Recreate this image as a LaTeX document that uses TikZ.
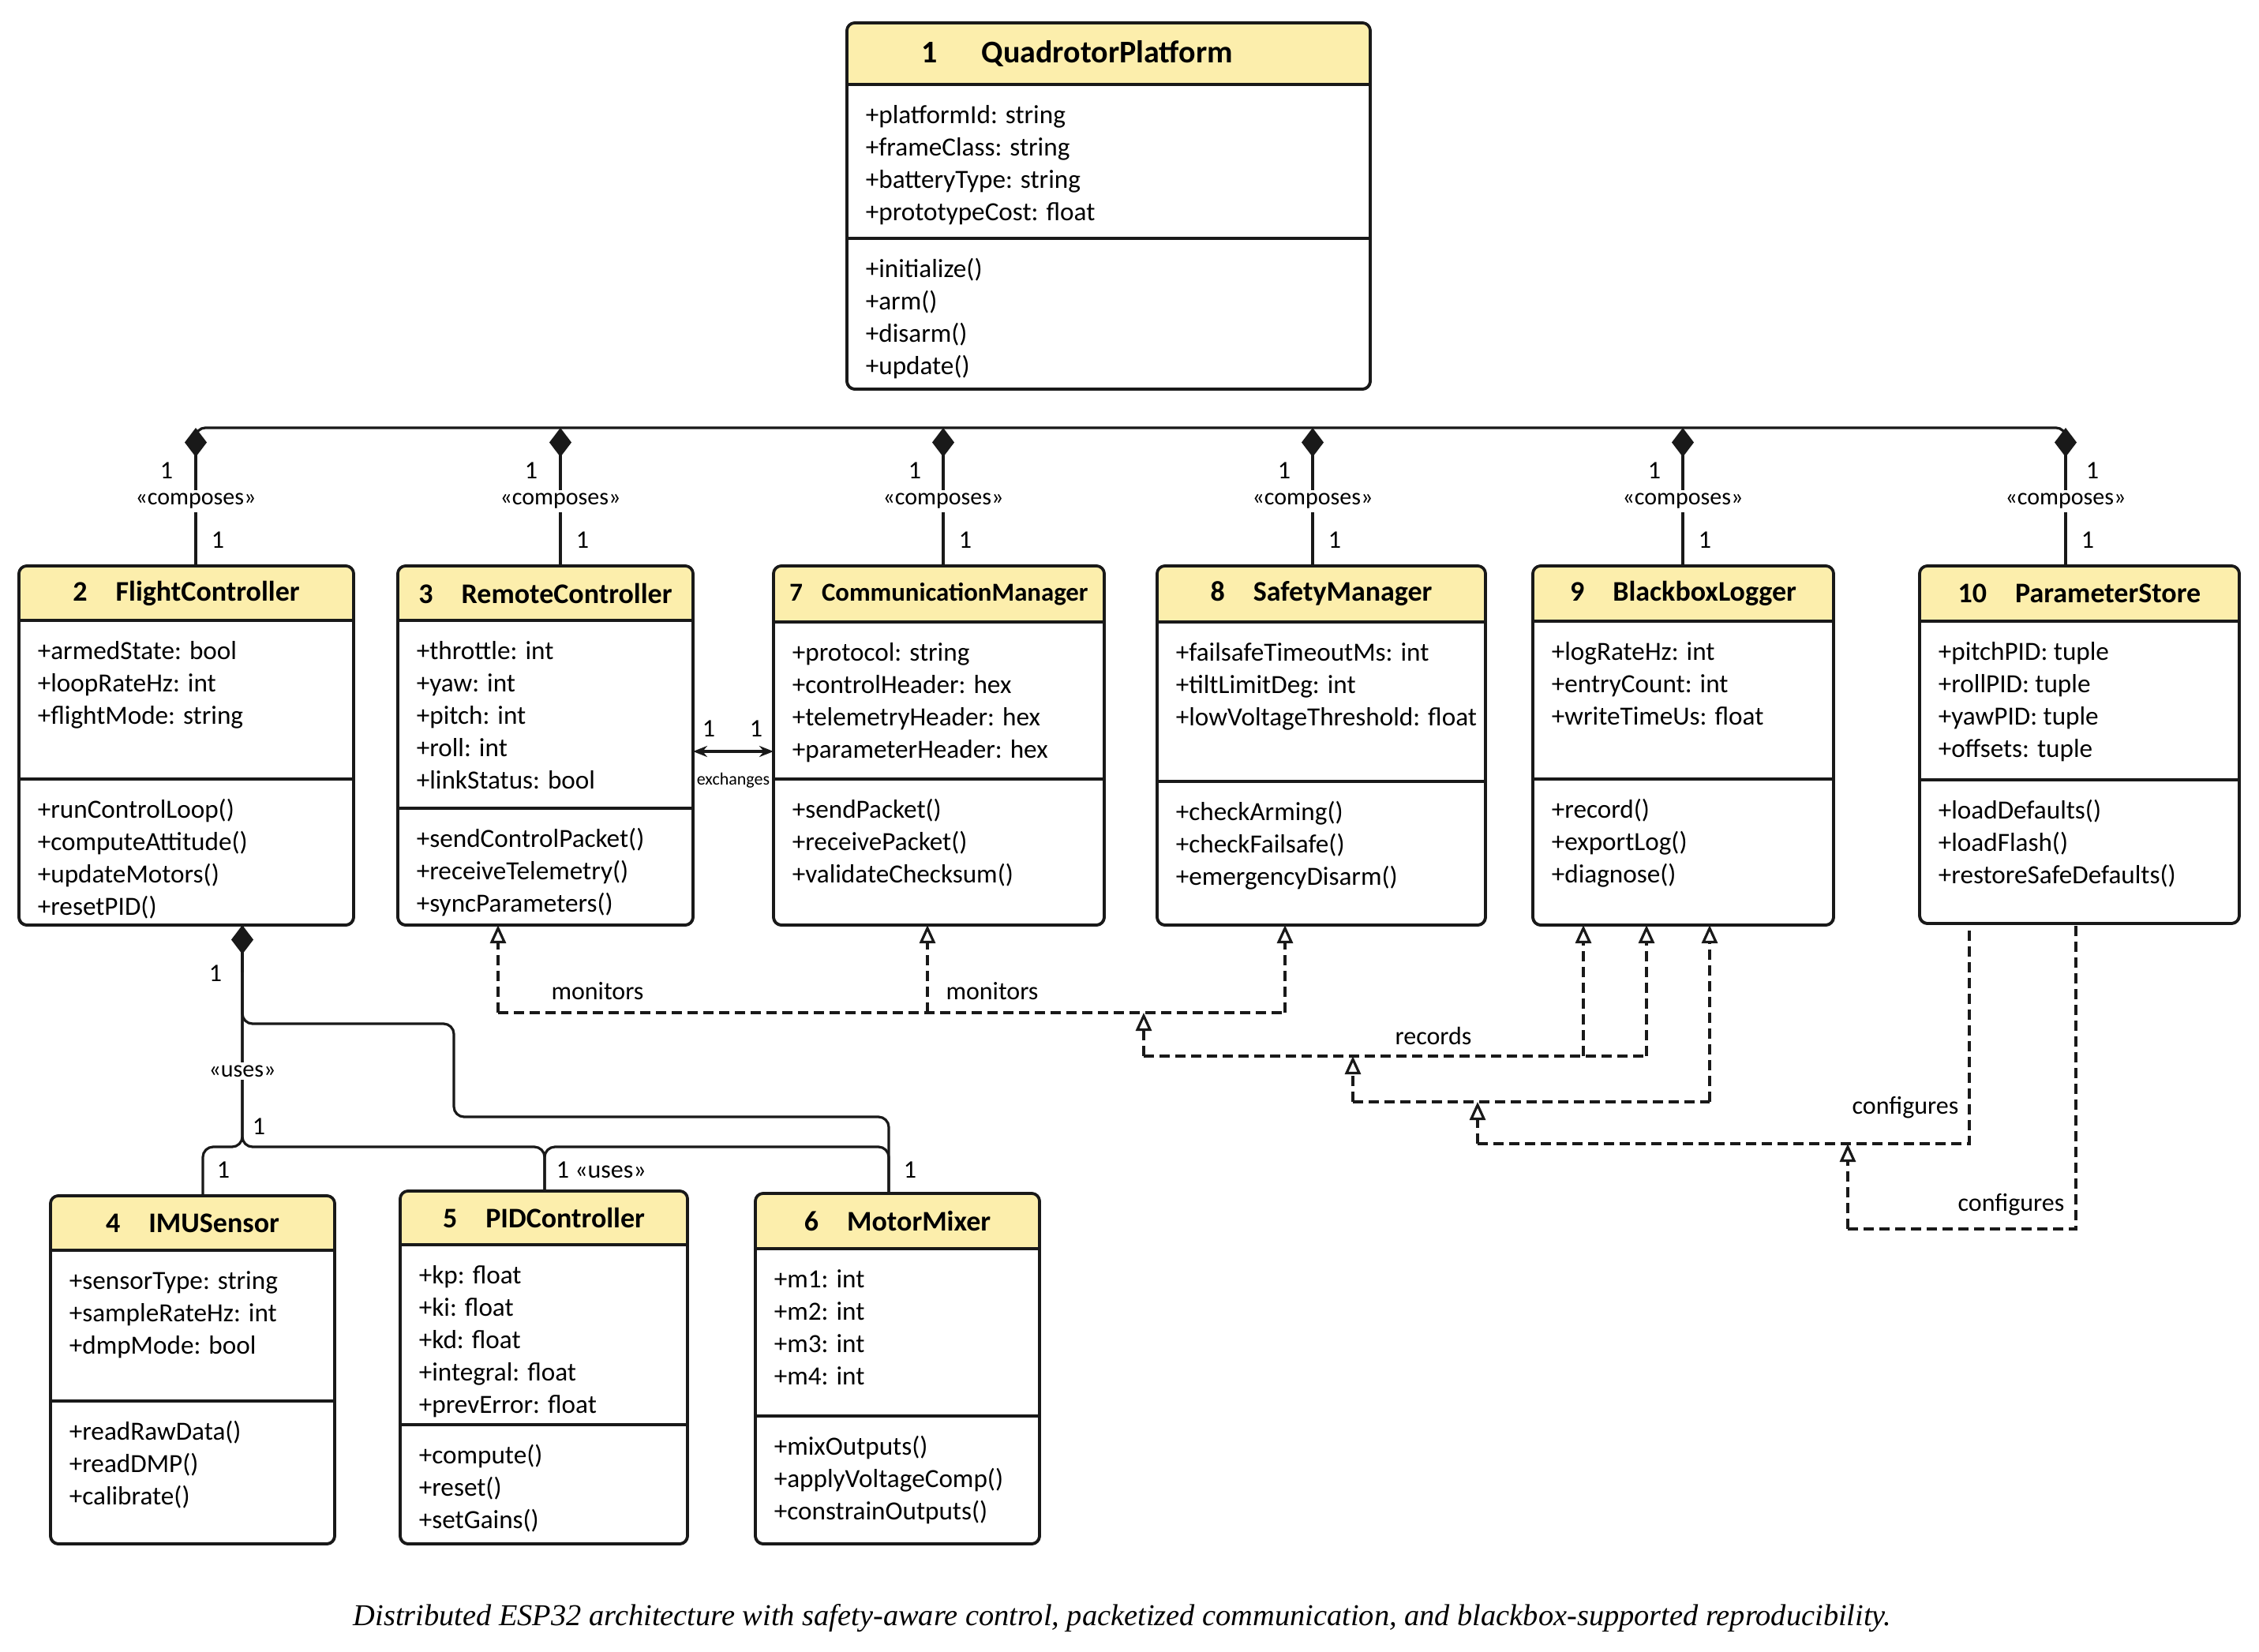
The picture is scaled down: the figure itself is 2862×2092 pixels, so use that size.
\documentclass[tikz,border=0pt]{standalone}
\usepackage{fontspec}
\setmainfont{Carlito}
\newfontfamily\captionfont{Liberation Serif}
\usetikzlibrary{arrows.meta,calc,fit}

\definecolor{headyellow}{RGB}{252,238,172}
\definecolor{inkline}{RGB}{25,25,25}

\tikzset{
  classframe/.style={draw=inkline, fill=white, line width=0.9pt, rounded corners=2.5pt, inner sep=0pt, outer sep=0pt},
  classedge/.style={draw=inkline, line width=0.9pt, rounded corners=2.5pt},
  headfill/.style={fill=headyellow},
  rule/.style={draw=inkline, line width=0.9pt},
  classtitle/.style={font=\fontsize{9}{11}\selectfont\bfseries, inner sep=0pt},
  members/.style={font=\fontsize{8.3}{10.25}\selectfont, align=left, anchor=north west, inner sep=0pt},
  conn/.style={draw=inkline, line width=0.8pt},
  comp/.style={conn, {Diamond[length=9.25pt, width=7pt]}-},
  assoc/.style={conn, rounded corners=3.25pt},
  depline/.style={conn, dash pattern=on 3.25pt off 1.75pt},
  deparrow/.style={depline, -{Triangle[open, length=5.75pt, width=5pt]}},
  exch/.style={conn, {Stealth[open, length=4.5pt, width=3.5pt]}-{Stealth[open, length=4.5pt, width=3.5pt]}},
  mult/.style={font=\fontsize{8}{10}\selectfont, inner sep=1pt},
  stereo/.style={font=\fontsize{7.5}{9}\selectfont, fill=white, inner sep=1pt},
  note/.style={font=\fontsize{8}{10}\selectfont, inner sep=1pt},
  tiny/.style={font=\fontsize{5.5}{6}\selectfont, inner sep=0.5pt},
  caption/.style={font=\captionfont\itshape\fontsize{9.6}{12}\selectfont, inner sep=0pt},
}

\newcommand{\bigtitle}{\fontsize{10}{12}\selectfont}
\newcommand{\narrowtitle}{\fontsize{8.2}{10}\selectfont}

% [#1 gap] #2 name, #3 top left, #4 bottom right, #5 y of header rule, #6 y of separator, #7 number, #8 class
\newcommand{\umlclass}[8][9pt]{%
  \path (#3) coordinate (#2-nw) (#4) coordinate (#2-se);
  \node[classframe, fit=(#2-nw)(#2-se)] (#2) {};
  \coordinate (#2-hb) at (#2.west |- 0,#5);
  \coordinate (#2-sep) at (#2.west |- 0,#6);
  \begin{scope}
    \clip[rounded corners=2.5pt] (#2.south west) rectangle (#2.north east);
    \fill[headfill] (#2.north west) rectangle (#2-hb -| #2.east);
  \end{scope}
  \draw[rule] (#2-hb) -- (#2-hb -| #2.east);
  \draw[rule] (#2-sep) -- (#2-sep -| #2.east);
  \draw[classedge] (#2.south west) rectangle (#2.north east);
  \node[classtitle] (#2-title) at ($(#2.north)!0.5!(#2-hb -| #2.north)$) {#7\hspace{#1}#8};
}
% #1 name, #2 attributes, #3 operations
\newcommand{\umlmembers}[3]{%
  \node[members] (#1-attr) at ($(#1-hb)+(23,20)$) {\strut#2};
  \node[members] (#1-ops) at ($(#1-sep)+(23,20)$) {\strut#3};
}

\begin{document}
\begin{tikzpicture}[x=0.25pt, y=-0.25pt]
\useasboundingbox (0,0) rectangle (2862,2092);

% classes
\umlclass[14pt]{qp}{1073,29}{1736,493}{107}{302}{\bigtitle 1}{QuadrotorPlatform\kern20pt}
\umlmembers{qp}{+platformId: string\\+frameClass: string\\+batteryType: string\\+prototypeCost: float}{+initialize()\\+arm()\\+disarm()\\+update()}

\umlclass{fc}{24,717}{448,1172}{786}{987}{2}{FlightController}
\umlmembers{fc}{+armedState: bool\\+loopRateHz: int\\+flightMode: string}{+runControlLoop()\\+computeAttitude()\\+updateMotors()\\+resetPID()}

\umlclass{rc}{504,717}{878,1172}{786}{1024}{3}{RemoteController}
\umlmembers{rc}{+throttle: int\\+yaw: int\\+pitch: int\\+roll: int\\+linkStatus: bool}{+sendControlPacket()\\+receiveTelemetry()\\+syncParameters()}

\umlclass[6pt]{cm}{980,717}{1399,1172}{788}{987}{\narrowtitle 7}{CommunicationManager}
\umlmembers{cm}{+protocol: string\\+controlHeader: hex\\+telemetryHeader: hex\\+parameterHeader: hex}{+sendPacket()\\+receivePacket()\\+validateChecksum()}

\umlclass{sm}{1466,717}{1882,1172}{788}{990}{8}{SafetyManager}
\umlmembers{sm}{+failsafeTimeoutMs: int\\+tiltLimitDeg: int\\+lowVoltageThreshold: float}{+checkArming()\\+checkFailsafe()\\+emergencyDisarm()}

\umlclass{bl}{1942,717}{2323,1172}{787}{987}{9}{BlackboxLogger}
\umlmembers{bl}{+logRateHz: int\\+entryCount: int\\+writeTimeUs: float}{+record()\\+exportLog()\\+diagnose()}

\umlclass{ps}{2432,717}{2837,1170}{787}{988}{10}{ParameterStore}
\umlmembers{ps}{+pitchPID: tuple\\+rollPID: tuple\\+yawPID: tuple\\+offsets: tuple}{+loadDefaults()\\+loadFlash()\\+restoreSafeDefaults()}

\umlclass{imu}{64,1515}{424,1956}{1584}{1775}{4}{IMUSensor}
\umlmembers{imu}{+sensorType: string\\+sampleRateHz: int\\+dmpMode: bool}{+readRawData()\\+readDMP()\\+calibrate()}

\umlclass{pid}{507,1509}{871,1956}{1577}{1805}{5}{PIDController}
\umlmembers{pid}{+kp: float\\+ki: float\\+kd: float\\+integral: float\\+prevError: float}{+compute()\\+reset()\\+setGains()}

\umlclass{mm}{957,1512}{1317,1956}{1582}{1794}{6}{MotorMixer}
\umlmembers{mm}{+m1: int\\+m2: int\\+m3: int\\+m4: int}{+mixOutputs()\\+applyVoltageComp()\\+constrainOutputs()}

% composition bus
\foreach \cls/\bx in {fc/248, rc/710, cm/1195, sm/1663, bl/2132, ps/2617}
  \coordinate (bus-\cls) at (\bx,542);
\draw[conn, rounded corners=3pt] ($(bus-fc)+(0,30)$) -- (bus-fc) -- (bus-ps) -- ($(bus-ps)+(0,30)$);
\foreach \cls/\side in {fc/-37, rc/-37, cm/-36, sm/-36, bl/-36, ps/34} {
  \draw[comp] (bus-\cls) -- (bus-\cls |- \cls.north);
  \node[stereo] at ($(bus-\cls)+(0,93)$) {«composes»};
  \node[mult] at ($(bus-\cls)+(\side,54)$) {1};
  \node[mult] at ($(bus-\cls)+(28,142)$) {1};
}

% flight controller uses
\coordinate (fc-d) at (307,0 |- fc.south);
\draw[assoc] (fc-d) |- (257,1453) -- (257,0 |- imu.north);
\draw[assoc] (fc-d) |- (690,1453) -- (690,0 |- pid.north);
\draw[assoc] (fc-d) |- (575,1297) |- (1126,1415) -- (1126,0 |- mm.north);
\draw[assoc] (690,0 |- pid.north) |- (1126,1453) -- (1126,0 |- mm.north);
\draw[comp] (fc-d) -- ++(0,60);
\node[mult] at (273,1233) {1};
\node[stereo] at (307,1357) {«uses»};
\node[mult] at (328,1427) {1};
\node[mult] at (283,1482) {1};
\node[mult, anchor=west] at (700,1482) {1 «uses»};
\node[mult] at (1153,1482) {1};

% exchanges
\coordinate (ex) at (0,952);
\draw[exch] (rc.east |- ex) -- (cm.west |- ex);
\node[mult] at (898,923) {1};
\node[mult] at (958,923) {1};
\node[tiny] at (929,989) {exchanges};

% monitors
\coordinate (mon-rc) at (631,1283);
\coordinate (mon-cm) at (1175,1283);
\coordinate (mon-sm) at (1628,1283);
\draw[depline] (mon-rc) -- (mon-sm);
\foreach \cls in {rc, cm, sm}
  \draw[deparrow] (mon-\cls) -- (mon-\cls |- \cls.south);
\node[note] at (757,1256) {monitors};
\node[note] at (1257,1256) {monitors};

% records
\coordinate (rec-a) at (1449,1338);
\coordinate (rec-b) at (1714,1396);
\draw[deparrow] (rec-a) -- (rec-a |- mon-sm);
\draw[depline] (rec-a) -- (2086,1338);
\draw[deparrow] (2006,1338) -- (2006,0 |- bl.south);
\draw[deparrow] (2086,1338) -- (2086,0 |- bl.south);
\draw[deparrow] (rec-b) -- (rec-b |- rec-a);
\draw[depline] (rec-b) -- (2166,1396);
\draw[deparrow] (2166,1396) -- (2166,0 |- bl.south);
\node[note] at (1816,1312) {records};

% configures
\coordinate (cfg-a) at (1872,1449);
\coordinate (cfg-b) at (2341,1557);
\draw[deparrow] (cfg-a) -- (cfg-a |- rec-b);
\draw[depline] (cfg-a) -- (2495,1449) -- (2495,0 |- ps.south);
\draw[deparrow] (cfg-b) -- (cfg-b |- cfg-a);
\draw[depline] (cfg-b) -- (2630,1557) -- (2630,0 |- ps.south);
\node[note] at (2414,1403) {configures};
\node[note] at (2548,1526) {configures};

% caption
\node[caption] (cap) at (1422,2050) {Distributed ESP32 architecture with safety-aware control, packetized communication, and blackbox-supported reproducibility.};
\end{tikzpicture}
\end{document}
